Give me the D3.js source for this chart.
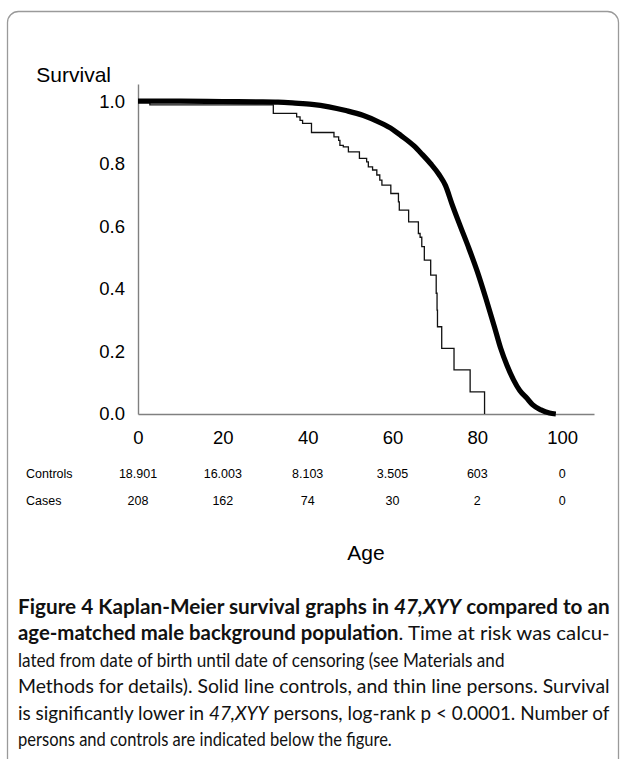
<!DOCTYPE html>
<html>
<head>
<meta charset="utf-8">
<script src="https://cdn.jsdelivr.net/npm/d3@7"></script>
<style>
  html, body { margin: 0; padding: 0; background: #fff; }
  svg { display: block; }
</style>
</head>
<body>
<svg id="chart" width="623" height="759"></svg>
<script>
// ---------- data ----------
const xTicks = [0, 20, 40, 60, 80, 100];
const yTicks = [0.0, 0.2, 0.4, 0.6, 0.8, 1.0];
const riskAges = [0, 20, 40, 60, 80, 100];
const controlsAtRisk = ["18.901", "16.003", "8.103", "3.505", "603", "0"];
const casesAtRisk = ["208", "162", "74", "30", "2", "0"];

// controls (thick, smooth)
const controlsAge = [0, 10, 20, 28, 33, 37, 41, 45, 49, 53, 57, 60, 62, 65, 67, 69, 71, 72.5, 74, 76, 78, 80, 82, 84, 85.5, 87, 88.5, 90, 91.7, 93, 95, 97, 98.5];
const controlsSurv = [1.0, 1.0, 0.999, 0.998, 0.997, 0.994, 0.99, 0.982, 0.97, 0.955, 0.932, 0.91, 0.89, 0.858, 0.83, 0.8, 0.765, 0.73, 0.672, 0.6, 0.53, 0.455, 0.37, 0.28, 0.21, 0.155, 0.11, 0.075, 0.05, 0.03, 0.013, 0.003, 0.0];

// cases 47,XYY (thin, step function: survival after each drop)
const casesAge = [0, 2.8, 31.9, 37.4, 38.2, 38.8, 40.9, 46.2, 47.3, 47.6, 48.4, 49.6, 52.2, 53.9, 54.3, 55.3, 56.3, 57.0, 57.5, 59.6, 61.4, 61.6, 63.8, 66.1, 66.5, 66.9, 67.5, 69.0, 70.3, 70.5, 70.6, 71.6, 74.5, 78.3, 81.7];
const casesSurv = [1.0, 0.988, 0.961, 0.95, 0.939, 0.929, 0.90, 0.886, 0.875, 0.859, 0.854, 0.838, 0.817, 0.806, 0.79, 0.78, 0.764, 0.748, 0.732, 0.705, 0.678, 0.652, 0.614, 0.577, 0.565, 0.535, 0.492, 0.444, 0.386, 0.332, 0.279, 0.21, 0.141, 0.071, 0.0];

const captionLines = [
  [{t: "Figure 4 Kaplan-Meier survival graphs in ", w: "bold"}, {t: "47,XYY", w: "bold", i: true}, {t: " compared to an", w: "bold"}],
  [{t: "age-matched male background population", w: "bold"}, {t: ". Time at risk was calcu-"}],
  [{t: "lated from date of birth until date of censoring (see Materials and"}],
  [{t: "Methods for details). Solid line controls, and thin line persons. Survival"}],
  [{t: "is significantly lower in "}, {t: "47,XYY", i: true}, {t: " persons, log-rank p < 0.0001. Number of"}],
  [{t: "persons and controls are indicated below the figure."}]
];
const captionWidths = [592, 592, 487, 592, 592, 374];

// ---------- drawing ----------
const svg = d3.select("#chart");
const chartFont = "'Liberation Sans', Arial, sans-serif";

// frame
svg.append("rect")
  .attr("x", 7.5).attr("y", 11.5)
  .attr("width", 611).attr("height", 790)
  .attr("rx", 11).attr("ry", 11)
  .attr("fill", "none").attr("stroke", "#9a9a9a").attr("stroke-width", 1.3);

const x = d3.scaleLinear().domain([0, 107.5]).range([138, 594]);
const y = d3.scaleLinear().domain([0, 1.055]).range([414, 84]);

// axes
const xAxis = svg.append("g")
  .attr("transform", `translate(0,${y(0)})`)
  .call(d3.axisBottom(x).tickValues(xTicks).tickSize(0).tickPadding(17).tickFormat(d3.format("d")));
const yAxis = svg.append("g")
  .attr("transform", `translate(${x(0)},0)`)
  .call(d3.axisLeft(y).tickValues(yTicks).tickSize(0).tickPadding(13).tickFormat(d3.format(".1f")));
[xAxis, yAxis].forEach(g => {
  g.select(".domain").attr("stroke", "#808080").attr("stroke-width", 1.4);
  g.selectAll("text").attr("font-family", chartFont).attr("font-size", 18.5).attr("fill", "#000");
});

// survival label
svg.append("text")
  .attr("x", 111).attr("y", 82)
  .attr("text-anchor", "end")
  .attr("font-family", chartFont).attr("font-size", 21)
  .text("Survival");

// curves
const lineSmooth = d3.line().x((d, i) => x(controlsAge[i])).y((d, i) => y(controlsSurv[i])).curve(d3.curveMonotoneX);
const lineStep = d3.line().x((d, i) => x(casesAge[i])).y((d, i) => y(casesSurv[i])).curve(d3.curveStepAfter);

svg.append("path")
  .attr("d", lineStep(casesAge))
  .attr("fill", "none").attr("stroke", "#111").attr("stroke-width", 1.3);

svg.append("path")
  .attr("d", lineSmooth(controlsAge))
  .attr("fill", "none").attr("stroke", "#000").attr("stroke-width", 5.2)
  .attr("stroke-linejoin", "round");

// risk table
const tableFont = 12.5;
const rowControls = 477.5, rowCases = 504.5;
svg.append("text").attr("x", 26).attr("y", rowControls)
  .attr("font-family", chartFont).attr("font-size", tableFont).text("Controls");
svg.append("text").attr("x", 26).attr("y", rowCases)
  .attr("font-family", chartFont).attr("font-size", tableFont).text("Cases");
svg.append("g").selectAll("text").data(controlsAtRisk).join("text")
  .attr("x", (d, i) => x(riskAges[i])).attr("y", rowControls)
  .attr("text-anchor", "middle")
  .attr("font-family", chartFont).attr("font-size", tableFont).text(d => d);
svg.append("g").selectAll("text").data(casesAtRisk).join("text")
  .attr("x", (d, i) => x(riskAges[i])).attr("y", rowCases)
  .attr("text-anchor", "middle")
  .attr("font-family", chartFont).attr("font-size", tableFont).text(d => d);

// x-axis title
svg.append("text").attr("x", 366).attr("y", 560)
  .attr("text-anchor", "middle")
  .attr("font-family", chartFont).attr("font-size", 21).text("Age");

// caption
const capFont = "Lato, 'Open Sans', sans-serif";
captionLines.forEach((parts, li) => {
  const t = svg.append("text")
    .attr("x", 0).attr("y", 0)
    .attr("font-family", capFont).attr("font-size", 20).attr("fill", "#111");
  parts.forEach(p => {
    t.append("tspan").text(p.t)
      .attr("font-weight", p.w || "normal")
      .attr("font-style", p.i ? "italic" : "normal");
  });
  const w = t.node().getComputedTextLength();
  const sx = captionWidths[li] / w;
  t.attr("transform", `translate(18,${614 + li * 26.4}) scale(${sx},1)`);
});
</script>
</body>
</html>
